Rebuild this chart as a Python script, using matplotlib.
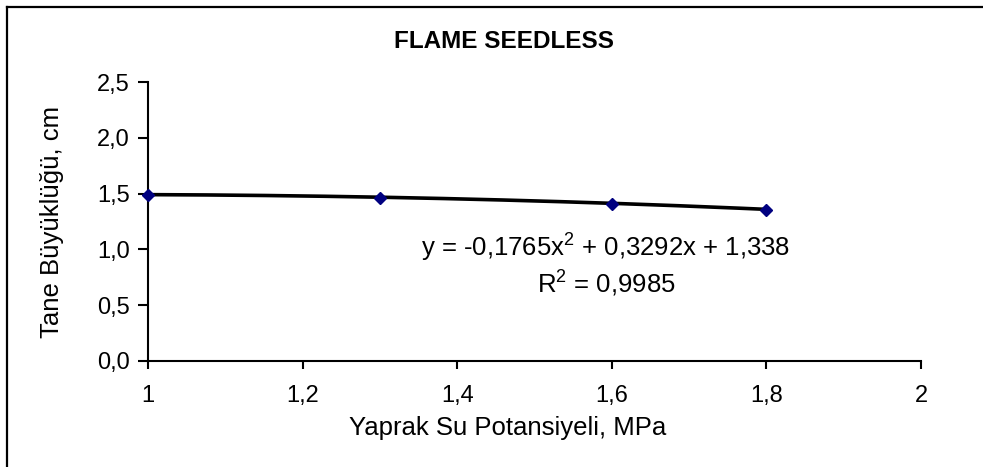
import matplotlib
matplotlib.use("Agg")
import matplotlib.pyplot as plt
import numpy as np
from matplotlib.ticker import FuncFormatter

plt.rcParams['font.family'] = ['Liberation Sans', 'DejaVu Sans']
plt.rcParams['mathtext.fontset'] = 'custom'
plt.rcParams['mathtext.rm'] = 'Liberation Sans'
plt.rcParams['mathtext.it'] = 'Liberation Sans'

# Yaprak su potansiyeli (MPa) ve tane buyuklugu (cm)
potansiyel = [1.0, 1.3, 1.6, 1.8]
tane = [1.485, 1.465, 1.41, 1.357]

# 2. derece polinom trend katsayilari
katsayilar = [-0.1765, 0.3292, 1.338]
r_kare = 0.9985

x_ticks = [1, 1.2, 1.4, 1.6, 1.8, 2]
y_ticks = [0.0, 0.5, 1.0, 1.5, 2.0, 2.5]

W, H = 983, 467


def virgul(v, pos):
    return ("%g" % v).replace(".", ",")


def virgul1(v, pos):
    return ("%.1f" % v).replace(".", ",")


fig = plt.figure(figsize=(W / 100, H / 100), dpi=100)
ax = fig.add_axes([148 / W, 1 - 361 / H, (921 - 148) / W, (361 - 82) / H])

# cerceve (sol ve ust)
fig.add_artist(plt.Line2D([7 / W, 7 / W], [0, 1 - 7 / H], color="black", lw=1.6, transform=fig.transFigure))
fig.add_artist(plt.Line2D([7 / W, 1], [1 - 7 / H, 1 - 7 / H], color="black", lw=1.6, transform=fig.transFigure))

xs = np.linspace(potansiyel[0], potansiyel[-1], 200)
ax.plot(xs, np.polyval(katsayilar, xs), color="black", lw=2.6, zorder=3)
ax.plot(potansiyel, tane, linestyle="none", marker="D", color="#000080",
        markersize=6.2, zorder=4, clip_on=False)

ax.set_xlim(1, 2)
ax.set_ylim(0, 2.5)
ax.set_xticks(x_ticks)
ax.set_yticks(y_ticks)
ax.xaxis.set_major_formatter(FuncFormatter(virgul))
ax.yaxis.set_major_formatter(FuncFormatter(virgul1))
for s in ["top", "right"]:
    ax.spines[s].set_visible(False)
for s in ["left", "bottom"]:
    ax.spines[s].set_linewidth(1.5)
ax.tick_params(direction="out", width=1.5, labelsize=17)
ax.tick_params(axis="y", length=7, pad=6)
ax.tick_params(axis="x", length=6, pad=11)

fig.text(504 / W, 1 - 48 / H, "FLAME SEEDLESS", fontsize=17.5, fontweight="bold",
         ha="center", va="baseline")
fig.text(508 / W, 1 - 435 / H, "Yaprak Su Potansiyeli, MPa", fontsize=18.5,
         ha="center", va="baseline")
fig.text(52 / W, 1 - 222 / H, "Tane Büyüklüğü, cm", fontsize=18.5, rotation=90,
         ha="center", va="center")

a, b, c = katsayilar
denklem = "y = %s$\\mathregular{x^{2}}$ + %sx + %s" % (
    ("%.4f" % a).replace(".", ","), ("%.4f" % b).replace(".", ","), ("%.3f" % c).replace(".", ","))
ax.text(1.5925, 0.938, denklem, ha="center", va="baseline", fontsize=18.5)
ax.text(1.5925, 0.61, "R$\\mathregular{^{2}}$ = " + ("%.4f" % r_kare).replace(".", ","),
        ha="center", va="baseline", fontsize=18.5)

fig.savefig("out.png", dpi=100)
